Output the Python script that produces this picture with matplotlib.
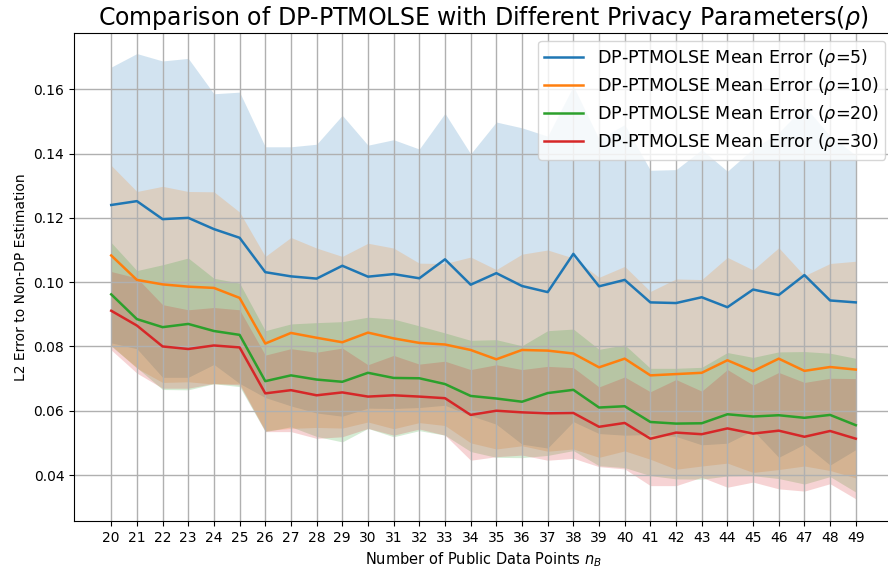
import numpy as np
import matplotlib
matplotlib.use("Agg")
from matplotlib import pyplot as plt

n_public = list(range(20, 50))

# mean L2 error per rho
mean_rho5 = [0.1240, 0.1252, 0.1196, 0.1200, 0.1165, 0.1138, 0.1031, 0.1018, 0.1011, 0.1051,
             0.1017, 0.1025, 0.1012, 0.1071, 0.0992, 0.1028, 0.0988, 0.0969, 0.1088, 0.0987,
             0.1007, 0.0937, 0.0935, 0.0953, 0.0922, 0.0977, 0.0960, 0.1022, 0.0943, 0.0937]
mean_rho10 = [0.1083, 0.1007, 0.0993, 0.0986, 0.0982, 0.0951, 0.0809, 0.0842, 0.0827, 0.0813,
              0.0843, 0.0825, 0.0811, 0.0806, 0.0789, 0.0760, 0.0789, 0.0787, 0.0778, 0.0735,
              0.0762, 0.0710, 0.0714, 0.0718, 0.0757, 0.0723, 0.0762, 0.0724, 0.0736, 0.0728]
mean_rho20 = [0.0962, 0.0885, 0.0860, 0.0870, 0.0848, 0.0836, 0.0692, 0.0710, 0.0697, 0.0690,
              0.0718, 0.0702, 0.0701, 0.0683, 0.0646, 0.0638, 0.0628, 0.0655, 0.0665, 0.0610,
              0.0614, 0.0565, 0.0560, 0.0561, 0.0589, 0.0582, 0.0586, 0.0578, 0.0587, 0.0555]
mean_rho30 = [0.0911, 0.0865, 0.0800, 0.0792, 0.0803, 0.0797, 0.0654, 0.0664, 0.0648, 0.0657,
              0.0644, 0.0648, 0.0644, 0.0639, 0.0587, 0.0600, 0.0595, 0.0592, 0.0593, 0.0550,
              0.0562, 0.0513, 0.0532, 0.0527, 0.0545, 0.0529, 0.0538, 0.0519, 0.0537, 0.0513]

# standard deviation (shaded band = mean +/- std)
std_rho5 = [0.0429, 0.0459, 0.0492, 0.0496, 0.0421, 0.0453, 0.0390, 0.0403, 0.0418, 0.0468,
            0.0409, 0.0418, 0.0402, 0.0454, 0.0407, 0.0470, 0.0492, 0.0485, 0.0522, 0.0458,
            0.0483, 0.0411, 0.0415, 0.0459, 0.0423, 0.0438, 0.0505, 0.0526, 0.0512, 0.0458]
std_rho10 = [0.0280, 0.0275, 0.0305, 0.0296, 0.0299, 0.0267, 0.0271, 0.0297, 0.0279, 0.0267,
             0.0278, 0.0281, 0.0248, 0.0252, 0.0289, 0.0279, 0.0298, 0.0313, 0.0297, 0.0280,
             0.0287, 0.0261, 0.0296, 0.0290, 0.0320, 0.0315, 0.0345, 0.0296, 0.0322, 0.0337]
std_rho20 = [0.0161, 0.0151, 0.0194, 0.0205, 0.0164, 0.0161, 0.0157, 0.0160, 0.0177, 0.0187,
             0.0173, 0.0183, 0.0163, 0.0159, 0.0173, 0.0183, 0.0174, 0.0194, 0.0189, 0.0181,
             0.0191, 0.0167, 0.0172, 0.0174, 0.0192, 0.0184, 0.0197, 0.0206, 0.0192, 0.0208]
std_rho30 = [0.0122, 0.0148, 0.0130, 0.0122, 0.0118, 0.0117, 0.0119, 0.0129, 0.0134, 0.0138,
             0.0099, 0.0124, 0.0101, 0.0115, 0.0141, 0.0143, 0.0133, 0.0146, 0.0141, 0.0124,
             0.0143, 0.0146, 0.0165, 0.0134, 0.0183, 0.0151, 0.0181, 0.0169, 0.0164, 0.0187]

rho_values = [5, 10, 20, 30]
means = [mean_rho5, mean_rho10, mean_rho20, mean_rho30]
stds = [std_rho5, std_rho10, std_rho20, std_rho30]

if __name__ == "__main__":
	fig = plt.figure(figsize=(8.88, 5.72), dpi=100)
	ax = fig.add_axes([74/888, 51/572, 819/888, 488/572])

	for i in range(len(rho_values)):
		m = np.array(means[i])
		s = np.array(stds[i])
		color = "C" + str(i)
		ax.plot(n_public, m, color=color, linewidth=1.8,
		        label=r"DP-PTMOLSE Mean Error ($\rho$=" + str(rho_values[i]) + ")")
		ax.fill_between(n_public, m - s, m + s, color=color, alpha=0.2, linewidth=0)

	ax.set_xlim(18.55, 50.45)
	ax.set_ylim(0.0257, 0.1775)
	ax.set_xticks(n_public)
	ax.tick_params(labelsize=10)
	ax.grid(True, color="#b0b0b0", linewidth=1.0)
	ax.set_xlabel(r"Number of Public Data Points $n_B$", fontsize=10.5)
	ax.set_ylabel("L2 Error to Non-DP Estimation", fontsize=10)
	ax.set_title(r"Comparison of DP-PTMOLSE with Different Privacy Parameters($\rho$)", fontsize=17)
	ax.legend(loc="upper right", fontsize=12.6, labelspacing=0.35, borderpad=0.35,
	          handlelength=2.2, handletextpad=0.8, borderaxespad=0.45)

	plt.savefig("out.png", dpi=100)
